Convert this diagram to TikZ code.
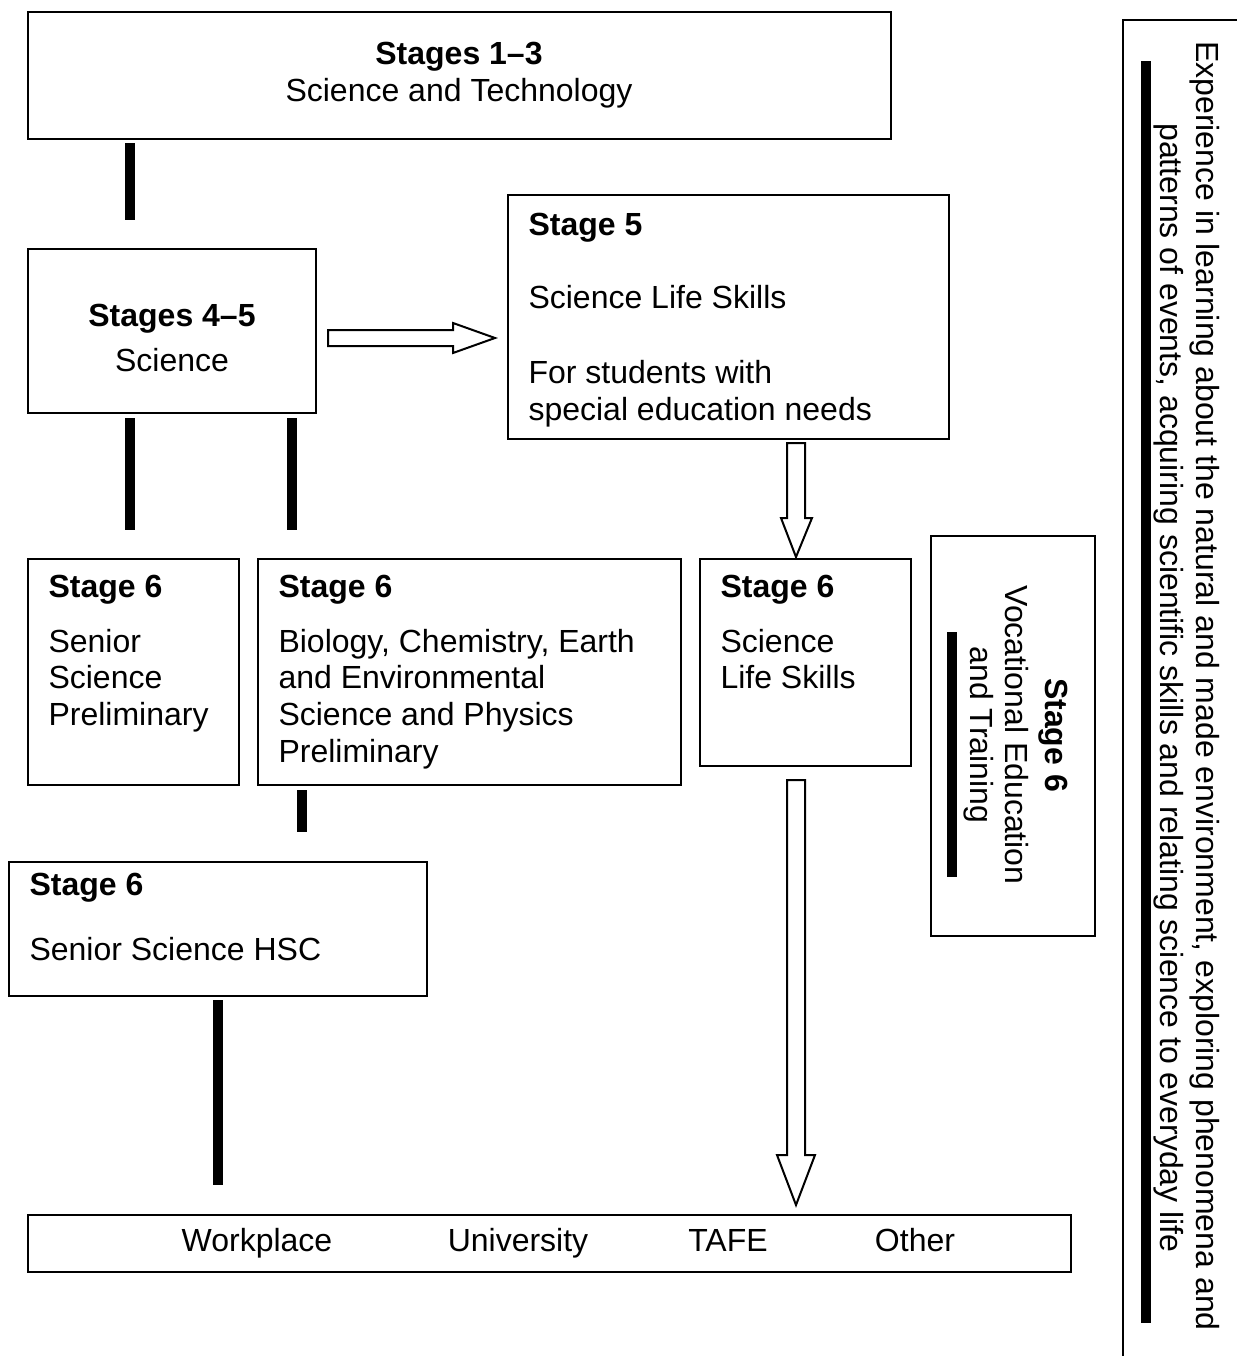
\documentclass[tikz,border=0pt]{standalone}
\usepackage{fontspec}
\setmainfont{Liberation Sans}
\usetikzlibrary{fit}
\tikzset{
  box/.style={draw=black, line width=0.8pt, inner sep=0pt, fill=white},
  txt/.style={inner sep=0pt, font=\fontsize{12}{14}\selectfont},
  btxt/.style={txt, font=\fontsize{12}{14}\selectfont\bfseries},
  bar/.style={line width=3.75pt, draw=black},
  hollow/.style={draw=black, line width=0.75pt, fill=white, line join=miter},
}
\begin{document}
\begin{tikzpicture}[x=0.375pt,y=-0.375pt]
\useasboundingbox (0,0) rectangle (1237,1356);
\fill[white] (0,0) rectangle (1237,1356);

% boxes
\node[box, fit={(28,12) (891,139)}] (top) {};
\node[box, fit={(28,249) (316,413)}] (s45) {};
\node[box, fit={(508,195) (949,439)}] (s5) {};
\node[box, fit={(28,559) (239,785)}] (s6a) {};
\node[box, fit={(258,559) (681,785)}] (s6b) {};
\node[box, fit={(700,559) (911,766)}] (s6c) {};
\node[box, fit={(9,862) (427,996)}] (hsc) {};
\node[box, fit={(28,1215) (1071,1272)}] (dest) {};
\node[box, fit={(931,536) (1095,936)}] (voc) {};

% right frame
\draw[line width=0.8pt] (1123,1360) -- (1123,20) -- (1240,20);

% texts
\node[btxt, anchor=base] (t1) at (459,64) {Stages 1–3};
\node[txt, anchor=base] (t2) at (459,101) {Science and Technology};

\node[btxt, anchor=base] (t3) at (172,326) {Stages 4–5};
\node[txt, anchor=base] (t4) at (172,371) {Science};

\node[btxt, anchor=base west] (t5) at (528,235) {Stage 5};
\node[txt, anchor=base west] (t6) at (528,308) {Science Life Skills};
\node[txt, anchor=base west] (t7) at (528,383) {For students with};
\node[txt, anchor=base west] (t8) at (528,420) {special education needs};

\node[btxt, anchor=base west] (a1) at (48,597) {Stage 6};
\node[txt, anchor=base west] (a2) at (48,652) {Senior};
\node[txt, anchor=base west] (a3) at (48,688) {Science};
\node[txt, anchor=base west] (a4) at (48,725) {Preliminary};

\node[btxt, anchor=base west] (b1) at (278,597) {Stage 6};
\node[txt, anchor=base west] (b2) at (278,652) {Biology, Chemistry, Earth};
\node[txt, anchor=base west] (b3) at (278,688) {and Environmental};
\node[txt, anchor=base west] (b4) at (278,725) {Science and Physics};
\node[txt, anchor=base west] (b5) at (278,762) {Preliminary};

\node[btxt, anchor=base west] (c1) at (720,597) {Stage 6};
\node[txt, anchor=base west] (c2) at (720,652) {Science};
\node[txt, anchor=base west] (c3) at (720,688) {Life Skills};

\node[btxt, anchor=base west] (h1) at (29,895) {Stage 6};
\node[txt, anchor=base west] (h2) at (29,960) {Senior Science HSC};

\node[txt, anchor=base] (d1) at (257,1251) {Workplace};
\node[txt, anchor=base] (d2) at (518,1251) {University};
\node[txt, anchor=base] (d3) at (728,1251) {TAFE};
\node[txt, anchor=base] (d4) at (915,1251) {Other};

% vocational text (rotated)
\node[btxt, rotate=-90, anchor=base] (v1) at (1045,735) {Stage 6};
\node[txt, rotate=-90, anchor=base] (v2) at (1005,735) {Vocational Education};
\node[txt, rotate=-90, anchor=base] (v3) at (970,735) {and Training};

% right side text
\node[txt, rotate=-90, anchor=base] (r1) at (1196,686) {Experience in learning about the natural and made environment, exploring phenomena and};
\node[txt, rotate=-90, anchor=base] (r2) at (1160,688) {patterns of events, acquiring scientific skills and relating science to everyday life};

% bars (connectors)
\coordinate (k1s) at (130,143); \coordinate (k1e) at (130,220);
\coordinate (k2s) at (130,418); \coordinate (k2e) at (130,530);
\coordinate (k3s) at (292,418); \coordinate (k3e) at (292,530);
\coordinate (k4s) at (301.5,790); \coordinate (k4e) at (301.5,832);
\coordinate (k5s) at (218,1000); \coordinate (k5e) at (218,1185);
\coordinate (k6s) at (952,632); \coordinate (k6e) at (952,877);
\coordinate (k7s) at (1145.5,61); \coordinate (k7e) at (1145.5,1323);
\draw[bar] (k1s) -- (k1e);
\draw[bar] (k2s) -- (k2e);
\draw[bar] (k3s) -- (k3e);
\draw[bar] (k4s) -- (k4e);
\draw[bar] (k5s) -- (k5e);
\draw[bar] (k6s) -- (k6e);
\draw[bar] (k7s) -- (k7e);

% hollow arrows
\draw[hollow] (328,330) -- (453,330) -- (453,323) -- (495,338) -- (453,353) -- (453,346) -- (328,346) -- cycle;
\draw[hollow] (787,443) -- (805,443) -- (805,518) -- (812,518) -- (796,557) -- (781,518) -- (787,518) -- cycle;
\draw[hollow] (787,780) -- (805,780) -- (805,1155) -- (815,1155) -- (796,1205) -- (777,1155) -- (787,1155) -- cycle;
\end{tikzpicture}
\end{document}
